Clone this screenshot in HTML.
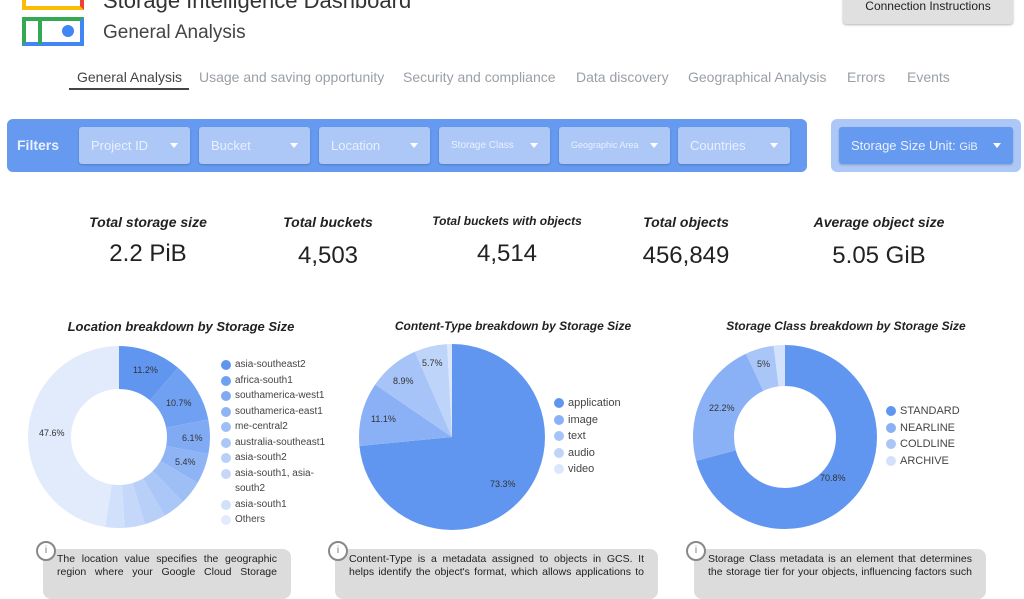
<!DOCTYPE html>
<html><head><meta charset="utf-8"><style>
body{margin:0;width:1024px;height:585px;overflow:hidden;background:#fff;font-family:"Liberation Sans",sans-serif;position:relative}
.a{position:absolute}
.tab{position:absolute;top:69px;font-size:14px;color:#9aa0a6}
.dd{position:absolute;top:127px;height:37px;background:#adc8f7;border-radius:3px;color:#e8f0fe;font-size:13px;line-height:37px;padding-left:12px;box-sizing:border-box;box-shadow:0 1px 2px rgba(0,0,0,.2)}
.dd:after{content:"";position:absolute;right:12px;top:16px;border:4px solid transparent;border-top:5px solid #fff}
.kt{position:absolute;top:214px;font-size:14px;font-style:italic;font-weight:bold;color:#222;text-align:center;width:200px}
.kv{position:absolute;top:240px;font-size:24px;color:#222;text-align:center;width:200px}
.ct{position:absolute;top:319px;font-size:13px;font-style:italic;font-weight:bold;color:#222;text-align:center;width:340px}
.lg{position:absolute;font-size:10px;color:#444;line-height:15.5px}
.lg div{position:relative;padding-left:14px}
.lg i{position:absolute;left:0;top:3px;width:10px;height:10px;border-radius:50%}
.note{position:absolute;top:549px;height:50px;background:#dcdcdc;border-radius:8px;font-size:10.5px;color:#222;padding:4px 14px;box-sizing:border-box;text-align:justify;text-align-last:justify;line-height:13px}
.ic{position:absolute;top:541px;width:16px;height:16px;border:2px solid #888;border-radius:50%;background:#fff;font-size:10px;color:#777;text-align:center;line-height:16px}
svg text{font-family:"Liberation Sans",sans-serif;font-size:9px;fill:#333}
</style></head><body>
<div class="a" style="left:22px;top:-20px;width:62px;height:30px;border:4px solid #fbbc04;border-right-color:#ea4335;box-sizing:border-box"></div>
<div class="a" style="left:22px;top:17px;width:62px;height:29px;border:4px solid #34a853;border-right-color:#4285f4;border-bottom-color:#4285f4;box-sizing:border-box"></div>
<div class="a" style="left:38px;top:17px;width:4px;height:27px;background:#34a853"></div>
<div class="a" style="left:62px;top:25px;width:12px;height:12px;border-radius:50%;background:#4285f4"></div>
<div class="a" style="left:103px;top:-12px;font-size:22px;color:#333">Storage Intelligence Dashboard</div>
<div class="a" style="left:103px;top:22px;font-size:19px;color:#444">General Analysis</div>
<div class="a" style="left:843px;top:-6px;width:170px;height:30px;background:#e0e0e0;border-radius:3px;box-shadow:0 1px 2px rgba(0,0,0,.3);font-size:12px;color:#222;text-align:center;line-height:24px">Connection Instructions</div>
<div class="tab" style="left:77px;color:#444">General Analysis</div>
<div class="a" style="left:69px;top:88px;width:120px;height:2px;background:#444"></div>
<div class="tab" style="left:199px">Usage and saving opportunity</div>
<div class="tab" style="left:403px">Security and compliance</div>
<div class="tab" style="left:576px">Data discovery</div>
<div class="tab" style="left:688px">Geographical Analysis</div>
<div class="tab" style="left:847px">Errors</div>
<div class="tab" style="left:907px">Events</div>
<div class="a" style="left:7px;top:119px;width:800px;height:53px;background:#659af0;border-radius:6px"></div>
<div class="a" style="left:17px;top:137px;font-size:14px;font-weight:bold;color:#eaf1fe">Filters</div>
<div class="dd" style="left:79px;width:111px">Project ID</div>
<div class="dd" style="left:199px;width:111px">Bucket</div>
<div class="dd" style="left:319px;width:111px">Location</div>
<div class="dd" style="left:439px;width:111px;font-size:10px">Storage Class</div>
<div class="dd" style="left:559px;width:111px;font-size:9px">Geographic Area</div>
<div class="dd" style="left:678px;width:112px">Countries</div>
<div class="a" style="left:831px;top:119px;width:190px;height:53px;background:#adc8f7;border-radius:6px"></div>
<div class="dd" style="left:839px;width:174px;background:#659af0;font-size:13px">Storage Size Unit: <span style="font-size:11px">GiB</span></div>
<div class="kt" style="left:48px">Total storage size</div><div class="kv" style="left:48px">2.2 PiB</div>
<div class="kt" style="left:228px">Total buckets</div><div class="kv" style="left:228px;top:242px">4,503</div>
<div class="kt" style="left:407px;font-size:12px">Total buckets with objects</div><div class="kv" style="left:407px">4,514</div>
<div class="kt" style="left:586px">Total objects</div><div class="kv" style="left:586px;top:242px">456,849</div>
<div class="kt" style="left:779px">Average object size</div><div class="kv" style="left:779px;top:242px">5.05 GiB</div>
<div class="ct" style="left:11px">Location breakdown by Storage Size</div>
<div class="ct" style="left:343px;font-size:12px">Content-Type breakdown by Storage Size</div>
<div class="ct" style="left:676px;font-size:12px">Storage Class breakdown by Storage Size</div>
<svg class="a" style="left:0;top:0" width="1024" height="585">
<g transform="rotate(-90 119 437)" fill="none" stroke-width="43">
<circle cx="119" cy="437" r="69.5" stroke="#6196f0" stroke-dasharray="48.9 440" stroke-dashoffset="0"/>
<circle cx="119" cy="437" r="69.5" stroke="#70a0f2" stroke-dasharray="46.7 440" stroke-dashoffset="-48.9"/>
<circle cx="119" cy="437" r="69.5" stroke="#80aaf3" stroke-dasharray="26.6 440" stroke-dashoffset="-95.6"/>
<circle cx="119" cy="437" r="69.5" stroke="#8fb4f5" stroke-dasharray="23.6 440" stroke-dashoffset="-122.2"/>
<circle cx="119" cy="437" r="69.5" stroke="#9ebef6" stroke-dasharray="18.3 440" stroke-dashoffset="-145.8"/>
<circle cx="119" cy="437" r="69.5" stroke="#abc7f7" stroke-dasharray="17.5 440" stroke-dashoffset="-164.1"/>
<circle cx="119" cy="437" r="69.5" stroke="#b8d0f8" stroke-dasharray="16.6 440" stroke-dashoffset="-181.6"/>
<circle cx="119" cy="437" r="69.5" stroke="#c5d8fa" stroke-dasharray="15.7 440" stroke-dashoffset="-198.2"/>
<circle cx="119" cy="437" r="69.5" stroke="#d1e0fb" stroke-dasharray="14.9 440" stroke-dashoffset="-213.9"/>
<circle cx="119" cy="437" r="69.5" stroke="#e2ebfc" stroke-dasharray="210 440" stroke-dashoffset="-228.8"/>
</g>
<text x="133" y="373">11.2%</text><text x="166" y="406">10.7%</text><text x="182" y="441">6.1%</text><text x="175" y="465">5.4%</text><text x="39" y="436">47.6%</text>
<g transform="rotate(-90 452 437)" fill="none" stroke-width="93">
<circle cx="452" cy="437" r="46.5" stroke="#6196f0" stroke-dasharray="214.2 300"/>
<circle cx="452" cy="437" r="46.5" stroke="#8ab1f5" stroke-dasharray="32.4 300" stroke-dashoffset="-214.2"/>
<circle cx="452" cy="437" r="46.5" stroke="#a6c4f7" stroke-dasharray="26 300" stroke-dashoffset="-246.6"/>
<circle cx="452" cy="437" r="46.5" stroke="#bfd4f9" stroke-dasharray="16.6 300" stroke-dashoffset="-272.6"/>
<circle cx="452" cy="437" r="46.5" stroke="#dbe7fc" stroke-dasharray="3 300" stroke-dashoffset="-289.2"/>
</g>
<text x="490" y="487">73.3%</text><text x="371" y="422">11.1%</text><text x="393" y="384">8.9%</text><text x="422" y="366">5.7%</text>
<g transform="rotate(-90 785 437)" fill="none" stroke-width="41">
<circle cx="785" cy="437" r="71.5" stroke="#6196f0" stroke-dasharray="318 460"/>
<circle cx="785" cy="437" r="71.5" stroke="#8ab1f5" stroke-dasharray="99.7 460" stroke-dashoffset="-318"/>
<circle cx="785" cy="437" r="71.5" stroke="#aac6f8" stroke-dasharray="22.5 460" stroke-dashoffset="-417.7"/>
<circle cx="785" cy="437" r="71.5" stroke="#d3e2fb" stroke-dasharray="9 460" stroke-dashoffset="-440.2"/>
</g>
<text x="820" y="481">70.8%</text><text x="709" y="411">22.2%</text><text x="757" y="367">5%</text>
</svg>
<div class="lg" style="left:221px;top:357px">
<div><i style="background:#6196f0"></i>asia-southeast2</div><div><i style="background:#70a0f2"></i>africa-south1</div><div><i style="background:#80aaf3"></i>southamerica-west1</div><div><i style="background:#8fb4f5"></i>southamerica-east1</div><div><i style="background:#9ebef6"></i>me-central2</div><div><i style="background:#abc7f7"></i>australia-southeast1</div><div><i style="background:#b8d0f8"></i>asia-south2</div><div><i style="background:#c5d8fa"></i>asia-south1, asia-<br>south2</div><div><i style="background:#d1e0fb"></i>asia-south1</div><div><i style="background:#e2ebfc"></i>Others</div></div>
<div class="lg" style="left:554px;top:395px;font-size:11px;line-height:16.5px">
<div><i style="background:#6196f0"></i>application</div><div><i style="background:#8ab1f5"></i>image</div><div><i style="background:#a6c4f7"></i>text</div><div><i style="background:#bfd4f9"></i>audio</div><div><i style="background:#dbe7fc"></i>video</div></div>
<div class="lg" style="left:886px;top:403px;font-size:11px;line-height:16.5px">
<div><i style="background:#6196f0"></i>STANDARD</div><div><i style="background:#8ab1f5"></i>NEARLINE</div><div><i style="background:#aac6f8"></i>COLDLINE</div><div><i style="background:#d3e2fb"></i>ARCHIVE</div></div>
<div class="note" style="left:43px;width:248px">The location value specifies the geographic region where your Google Cloud Storage</div>
<div class="note" style="left:335px;width:323px">Content-Type is a metadata assigned to objects in GCS. It helps identify the object's format, which allows applications to</div>
<div class="note" style="left:694px;width:292px">Storage Class metadata is an element that determines the storage tier for your objects, influencing factors such</div>
<div class="ic" style="left:36px">i</div><div class="ic" style="left:328px">i</div><div class="ic" style="left:686px">i</div>
</body></html>
